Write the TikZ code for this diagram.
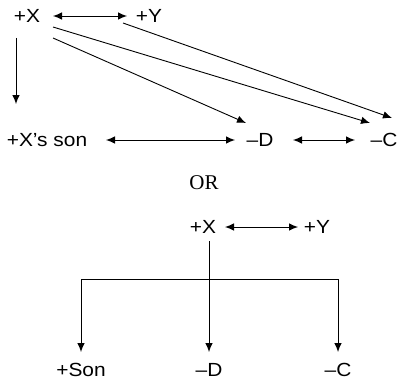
\documentclass[tikz,border=0pt]{standalone}
\usepackage{fontspec}
\newfontfamily\labelfont{Liberation Sans}[FakeStretch=1.1]
\newfontfamily\orfont{Liberation Serif}
\usetikzlibrary{positioning,arrows.meta}

\begin{document}
\begin{tikzpicture}[
    x=1pt, y=1pt,
    lbl/.style={inner sep=0pt, font=\labelfont\fontsize{19}{22}\selectfont},
    arr/.style={-{Latex[length=9pt,width=7.5pt]}, line width=0.9pt},
    dbl/.style={{Latex[length=9pt,width=7.5pt]}-{Latex[length=9pt,width=7.5pt]}, line width=0.9pt}
]
\useasboundingbox (0,0) rectangle (398,381);

% First form: crossed links
\node[lbl] (xa) at (27,365) {+X};
\node[lbl] (ya) at (149,365) {+Y};
\node[lbl] (son) at (47,241) {+X’s son};
\node[lbl] (dd) at (260,241) {–D};
\node[lbl] (cc) at (384,241) {–C};

\draw[dbl] ([xshift=26]xa.center) -- ([xshift=-22]ya.center);
\draw[arr] ([shift={(-11,-22)}]xa.center) -- ([shift={(-31,36)}]son.center);
\draw[dbl] ([xshift=59]son.center) -- ([xshift=-25]dd.center);
\draw[dbl] ([xshift=33]dd.center) -- ([xshift=-29]cc.center);
\draw[arr] ([shift={(26,-22)}]xa.center) -- ([shift={(-14,17)}]dd.center);
\draw[arr] ([shift={(26,-11)}]xa.center) -- ([shift={(-14,17)}]cc.center);
\draw[arr] ([shift={(-26,-7)}]ya.center) -- ([shift={(8,22)}]cc.center);

\node[font=\orfont\fontsize{21}{24}\selectfont, inner sep=0pt] (or) at (204,198) {OR};

% Second form: one branch
\node[lbl] (xb) at (203,154) {+X};
\node[lbl] (yb) at (317,154) {+Y};
\node[lbl] (sonb) at (81,11) {+Son};
\node[lbl] (db) at (209,11) {–D};
\node[lbl] (cb) at (338,11) {–C};
\coordinate (bar) at (209,102);

\draw[dbl] ([xshift=22]xb.center) -- ([xshift=-19]yb.center);
\draw[arr] ([shift={(6,-14)}]xb.center) -- ([yshift=18]db.center);
\draw[arr] (bar) -| ([yshift=18]sonb.center);
\draw[arr] (bar) -| ([yshift=18]cb.center);
\end{tikzpicture}
\end{document}
